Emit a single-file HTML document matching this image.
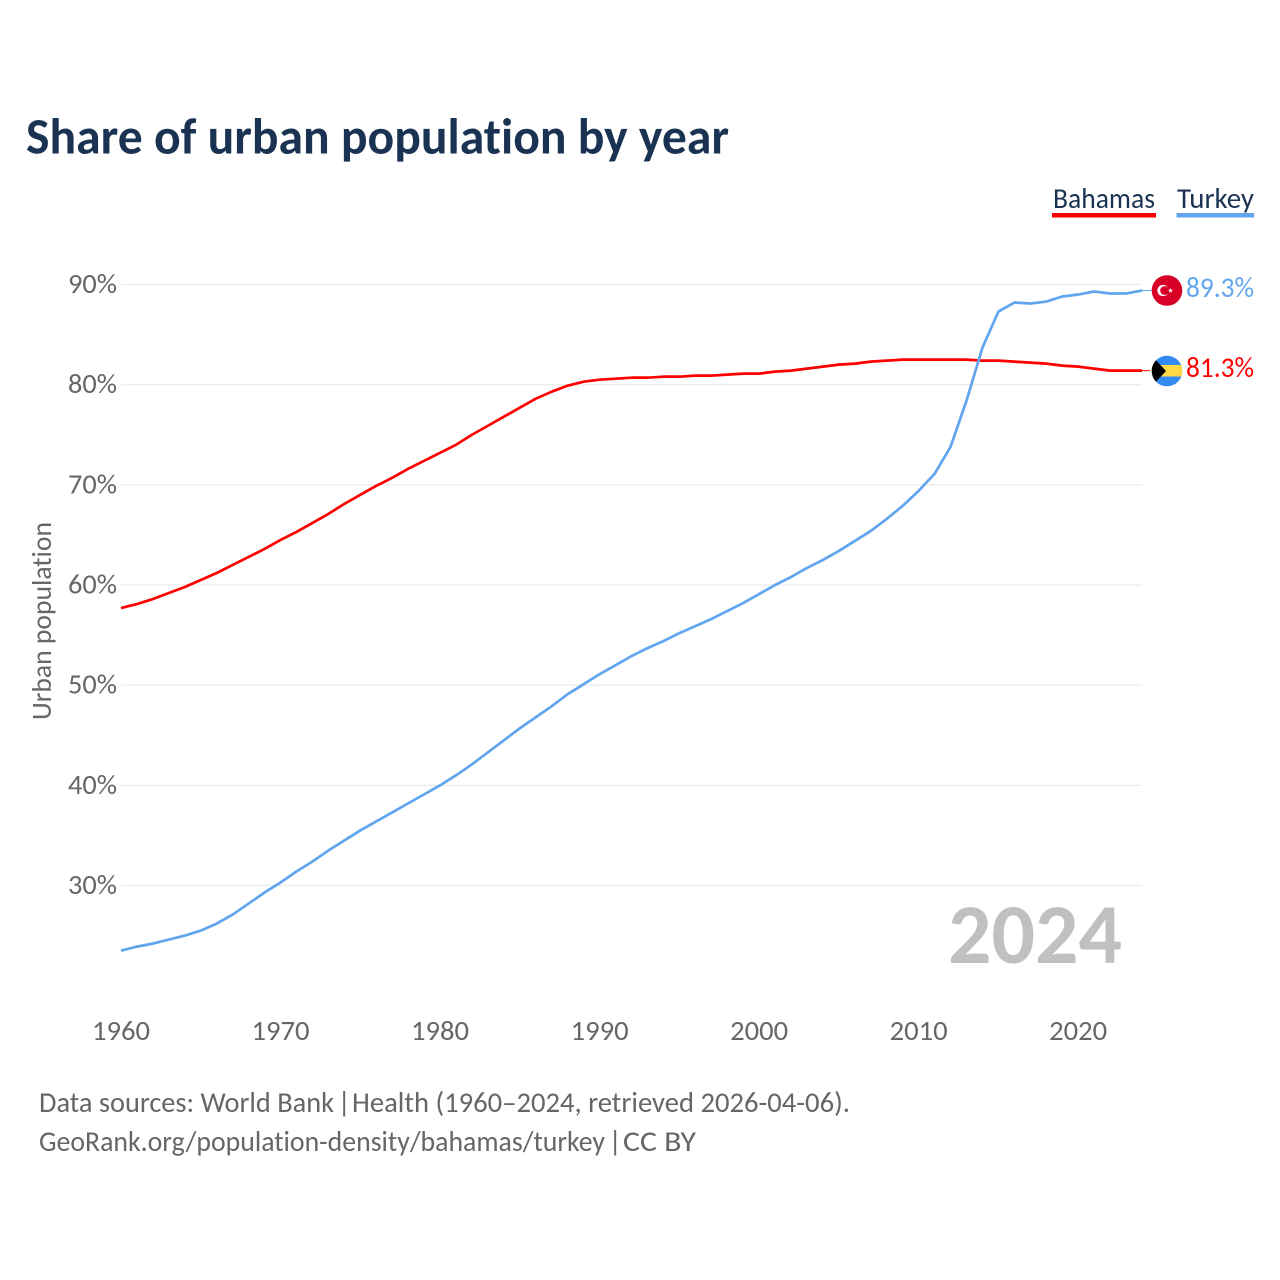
<!DOCTYPE html>
<html lang="en">
<head>
<meta charset="utf-8">
<title>Share of urban population by year</title>
<style>
html,body{margin:0;padding:0;background:#fff;width:1280px;height:1280px;overflow:hidden}
svg{display:block}
text{font-family:"Carlito","Liberation Sans",sans-serif;font-variant-ligatures:none}
</style>
</head>
<body>
<svg id="chart" xmlns="http://www.w3.org/2000/svg" width="1280" height="1280" viewBox="0 0 1280 1280">
  <rect width="1280" height="1280" fill="#fff"/>
  <text x="26" y="153.5" font-size="51" font-weight="700" fill="#1a3352" textLength="703" lengthAdjust="spacingAndGlyphs">Share of urban population by year</text>

  <g>
    <g>
      <text x="1053" y="208" font-size="28.5" fill="#1a3352" textLength="102" lengthAdjust="spacingAndGlyphs">Bahamas</text>
      <rect x="1052" y="213" width="104" height="4.5" fill="#ff0000"/>
    </g>
    <g>
      <text x="1177" y="208" font-size="28.5" fill="#1a3352" textLength="77" lengthAdjust="spacingAndGlyphs">Turkey</text>
      <rect x="1176.5" y="213" width="77.5" height="4.5" fill="#60a5ee"/>
    </g>
  </g>

  <g id="grid"></g>
  <g id="yticks"></g>
  <g id="xticks"></g>
  <text transform="translate(51,621) rotate(-90)" text-anchor="middle" font-size="27.5" fill="#666" textLength="198" lengthAdjust="spacingAndGlyphs">Urban population</text>

  <text x="1122" y="963" text-anchor="end" font-size="85" font-weight="700" fill="#c0c0c0" textLength="174" lengthAdjust="spacingAndGlyphs">2024</text>

  <g id="series"></g>

  <defs>
    <clipPath id="flag-clip-bs"><circle cx="1167" cy="371" r="15.3"/></clipPath>
  </defs>
  <g>
    <circle cx="1167" cy="290.5" r="15.3" fill="#d80027"/>
    <circle cx="1163" cy="290.5" r="5.6" fill="#fff"/>
    <circle cx="1164.6" cy="290.5" r="4.4" fill="#d80027"/>
    <polygon points="1170.5,288 1171.1,289.8 1173,289.8 1171.5,291 1172,292.8 1170.5,291.7 1169,292.8 1169.5,291 1168,289.8 1169.9,289.8" fill="#fff"/>
  </g>
  <g clip-path="url(#flag-clip-bs)">
    <rect x="1151" y="355" width="32" height="32" fill="#338af3"/>
    <rect x="1151" y="365" width="32" height="11.5" fill="#ffda44"/>
    <polygon points="1151,355 1166,371 1151,387" fill="#000"/>
  </g>

  <text id="label-turkey" x="1186" y="297" font-size="28.5" fill="#60a5ee" textLength="68" lengthAdjust="spacingAndGlyphs">89.3%</text>
  <text id="label-bahamas" x="1186" y="377" font-size="28.5" fill="#ff0000" textLength="68" lengthAdjust="spacingAndGlyphs">81.3%</text>

  <g font-size="29" fill="#666">
    <text x="39" y="1112" textLength="295" lengthAdjust="spacingAndGlyphs">Data sources: World Bank</text>
    <text x="337.5" y="1112">|</text>
    <text x="352" y="1112" textLength="498" lengthAdjust="spacingAndGlyphs">Health (1960–2024, retrieved 2026-04-06).</text>
  </g>
  <g font-size="29" fill="#666">
    <text x="39" y="1151" textLength="566" lengthAdjust="spacingAndGlyphs">GeoRank.org/population-density/bahamas/turkey</text>
    <text x="608.5" y="1151">|</text>
    <text x="623" y="1151" textLength="73" lengthAdjust="spacingAndGlyphs">CC BY</text>
  </g>
</svg>
<script>
var firstYear = 1960;
var yTicks = [30, 40, 50, 60, 70, 80, 90];
var xTicks = [1960, 1970, 1980, 1990, 2000, 2010, 2020];
var bahamas = [57.7,58.1,58.6,59.2,59.8,60.5,61.2,62.0,62.8,63.6,64.5,65.3,66.2,67.1,68.1,69.0,69.9,70.7,71.6,72.4,73.2,74.0,75.0,75.9,76.8,77.7,78.6,79.3,79.9,80.3,80.5,80.6,80.7,80.7,80.8,80.8,80.9,80.9,81.0,81.1,81.1,81.3,81.4,81.6,81.8,82.0,82.1,82.3,82.4,82.5,82.5,82.5,82.5,82.5,82.4,82.4,82.3,82.2,82.1,81.9,81.8,81.6,81.4,81.4,81.4];
var turkey = [23.5,23.9,24.2,24.6,25.0,25.5,26.2,27.1,28.2,29.3,30.3,31.4,32.4,33.5,34.5,35.5,36.4,37.3,38.2,39.1,40.0,41.0,42.1,43.3,44.5,45.7,46.8,47.9,49.1,50.1,51.1,52.0,52.9,53.7,54.4,55.2,55.9,56.6,57.4,58.2,59.1,60.0,60.8,61.7,62.5,63.4,64.4,65.4,66.6,67.9,69.4,71.1,73.8,78.4,83.7,87.3,88.2,88.1,88.3,88.8,89.0,89.3,89.1,89.1,89.4];

var SVGNS = 'http://www.w3.org/2000/svg';
function xScale(year) { return 121 + (year - 1960) * 15.953; }
function yScale(v) { return 284.5 + (90 - v) * 10.017; }

function make(tag, attrs, parent) {
  var el = document.createElementNS(SVGNS, tag);
  for (var k in attrs) { el.setAttribute(k, attrs[k]); }
  parent.appendChild(el);
  return el;
}

var gridGroup = document.getElementById('grid');
var yGroup = document.getElementById('yticks');
yTicks.forEach(function (t) {
  var line = make('line', {x1: 121, x2: 1142, y1: yScale(t), y2: yScale(t), stroke: '#ececec', 'stroke-width': 1.3}, gridGroup);
  
  
  var label = make('text', {x: 117, y: yScale(t) + 8.5, 'text-anchor': 'end', 'font-size': 27.5, fill: '#666', textLength: 49, lengthAdjust: 'spacingAndGlyphs'}, yGroup);
  label.textContent = t + '%';
  
  
});

var xGroup = document.getElementById('xticks');
xTicks.forEach(function (t) {
  var label = make('text', {x: xScale(t), y: 1040, 'text-anchor': 'middle', 'font-size': 27.5, fill: '#666', textLength: 58, lengthAdjust: 'spacingAndGlyphs'}, xGroup);
  label.textContent = t;
  
  
});

function linePoints(values) {
  return values.map(function (v, i) {
    return xScale(firstYear + i).toFixed(2) + ',' + yScale(v).toFixed(2);
  }).join(' ');
}

var seriesGroup = document.getElementById('series');

var bahamasLine = make('polyline', {points: linePoints(bahamas), fill: 'none', stroke: '#ff0000', 'stroke-width': 2.7, 'stroke-linejoin': 'round'}, seriesGroup);



var turkeyLine = make('polyline', {points: linePoints(turkey), fill: 'none', stroke: '#60a5ee', 'stroke-width': 2.7, 'stroke-linejoin': 'round'}, seriesGroup);



var lastX = xScale(firstYear + bahamas.length - 1);
var bahamasTail = make('line', {x1: lastX, x2: lastX + 8, y1: yScale(bahamas[bahamas.length - 1]), y2: yScale(bahamas[bahamas.length - 1]), stroke: '#ff0000', 'stroke-width': 1}, seriesGroup);



var turkeyTail = make('line', {x1: lastX, x2: lastX + 10, y1: yScale(turkey[turkey.length - 1]), y2: yScale(turkey[turkey.length - 1]), stroke: '#60a5ee', 'stroke-width': 1}, seriesGroup);


</script>
</body>
</html>
